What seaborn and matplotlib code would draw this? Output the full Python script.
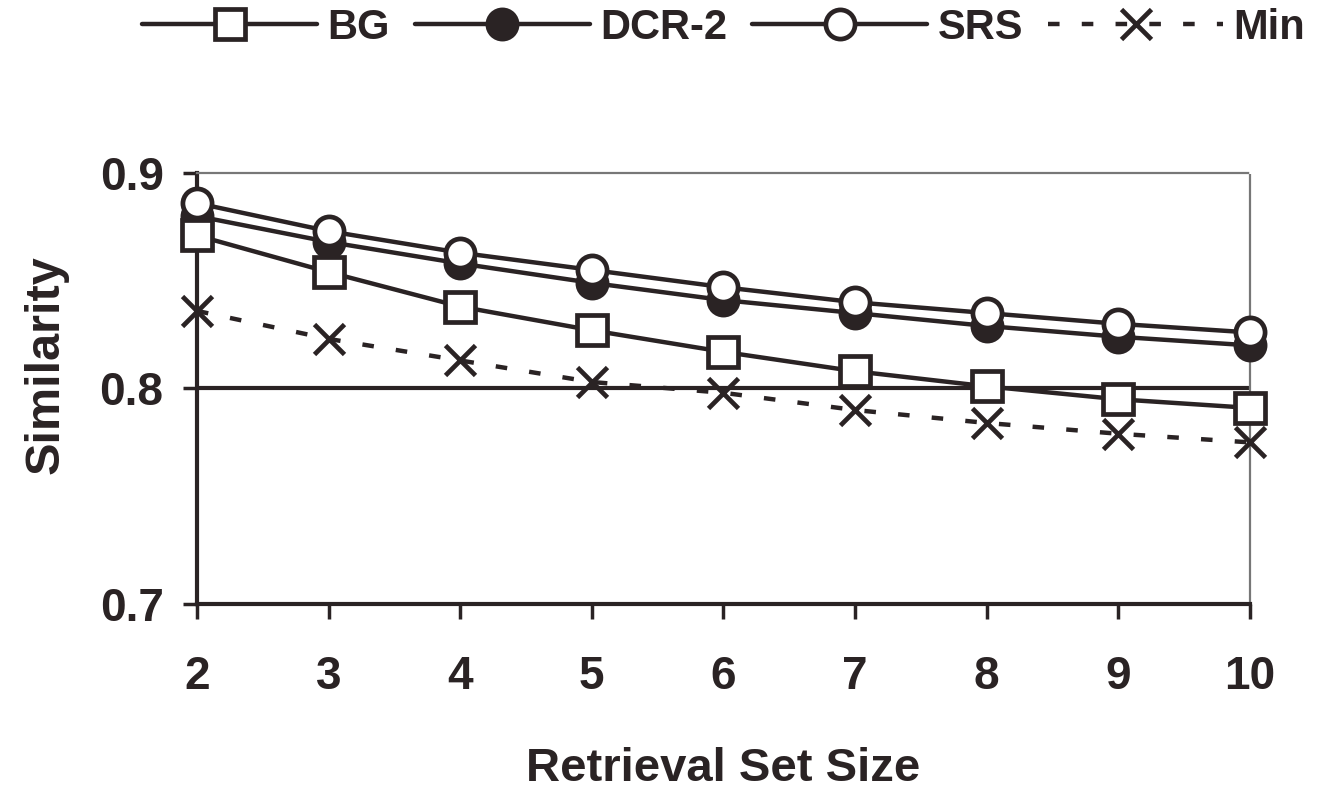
import pandas as pd
import matplotlib.pyplot as plt
import seaborn as sns

# Values
set_sizes = [2, 3, 4, 5, 6, 7, 8, 9, 10]
bg_sim = [0.871, 0.854, 0.838, 0.827, 0.817, 0.808, 0.801, 0.795, 0.791]
dcr2_sim = [0.880, 0.868, 0.858, 0.849, 0.841, 0.835, 0.829, 0.824, 0.820]
srs_sim = [0.886, 0.873, 0.863, 0.855, 0.847, 0.840, 0.835, 0.830, 0.826]
min_sim = [0.836, 0.823, 0.813, 0.803, 0.798, 0.790, 0.784, 0.779, 0.775]
y_ticks = [0.7, 0.8, 0.9]

sim_data = pd.DataFrame({
    'Retrieval Set Size': set_sizes,
    'BG': bg_sim,
    'DCR-2': dcr2_sim,
    'SRS': srs_sim,
    'Min': min_sim,
})

sns.set_style('white')
plt.rcParams['font.family'] = ['Liberation Sans', 'DejaVu Sans']
plt.rcParams['font.weight'] = 'bold'

ink = '#2a2324'

fig = plt.figure(figsize=(13.28, 7.96), dpi=100)
ax = fig.add_axes([0.1483, 0.2412, 0.7929, 0.5415])

# --- series styles (drawing order: Min, DCR-2, SRS, BG) ---
common = dict(color=ink, linewidth=3.2, markersize=21, markeredgewidth=3.4,
              markeredgecolor=ink, clip_on=False)
sns.lineplot(data=sim_data, x='Retrieval Set Size', y='Min', ax=ax, label='Min',
             marker='x', linestyle=(0, (2.6, 5.0)), zorder=3, **common)
sns.lineplot(data=sim_data, x='Retrieval Set Size', y='DCR-2', ax=ax, label='DCR-2',
             marker='o', markerfacecolor=ink, zorder=4, **common)
sns.lineplot(data=sim_data, x='Retrieval Set Size', y='SRS', ax=ax, label='SRS',
             marker='o', markerfacecolor='white', zorder=5, **common)
sns.lineplot(data=sim_data, x='Retrieval Set Size', y='BG', ax=ax, label='BG',
             marker='s', markerfacecolor='white', zorder=6, **common)

ax.set_xlim(set_sizes[0], set_sizes[-1])
ax.set_ylim(y_ticks[0], y_ticks[-1])
ax.set_xticks(set_sizes)
ax.set_yticks(y_ticks)
ax.set_yticklabels([f'{v:.1f}' for v in y_ticks])

# gridline only in the middle of the range
ax.grid(axis='y', color=ink, linewidth=3, linestyle='-')
gl = ax.yaxis.get_gridlines()
gl[0].set_visible(False)
gl[-1].set_visible(False)
ax.set_axisbelow(True)

for side in ['left', 'bottom']:
    ax.spines[side].set_color(ink)
    ax.spines[side].set_linewidth(3)
for side in ['top', 'right']:
    ax.spines[side].set_color('#777777')
    ax.spines[side].set_linewidth(1.6)
    ax.spines[side].set_linestyle((0, (1, 1)))

ax.tick_params(axis='x', direction='out', length=11, width=2.5, color=ink,
               labelsize=33, labelcolor=ink, pad=26, bottom=True)
ax.tick_params(axis='y', direction='out', length=10, width=2.5, color=ink,
               labelsize=33, labelcolor=ink, pad=14, left=True)
for lbl in ax.get_xticklabels() + ax.get_yticklabels():
    lbl.set_fontweight('bold')

ax.set_xlabel('Retrieval Set Size', fontsize=34, fontweight='bold', color=ink, labelpad=34)
ax.set_ylabel('Similarity', fontsize=35, fontweight='bold', color=ink)
ax.yaxis.set_label_coords(-0.122, 0.555)

handles, labels = ax.get_legend_handles_labels()
order = ['BG', 'DCR-2', 'SRS', 'Min']
hmap = dict(zip(labels, handles))
ax.legend([hmap[k] for k in order], order, loc='center', bbox_to_anchor=(0.545, 0.965),
          bbox_transform=fig.transFigure, ncol=4, frameon=False,
          prop={'size': 30, 'weight': 'bold'}, labelcolor=ink,
          handlelength=4.2, handletextpad=0.25, columnspacing=0.6, borderaxespad=0)

plt.savefig('out.png', dpi=100)
